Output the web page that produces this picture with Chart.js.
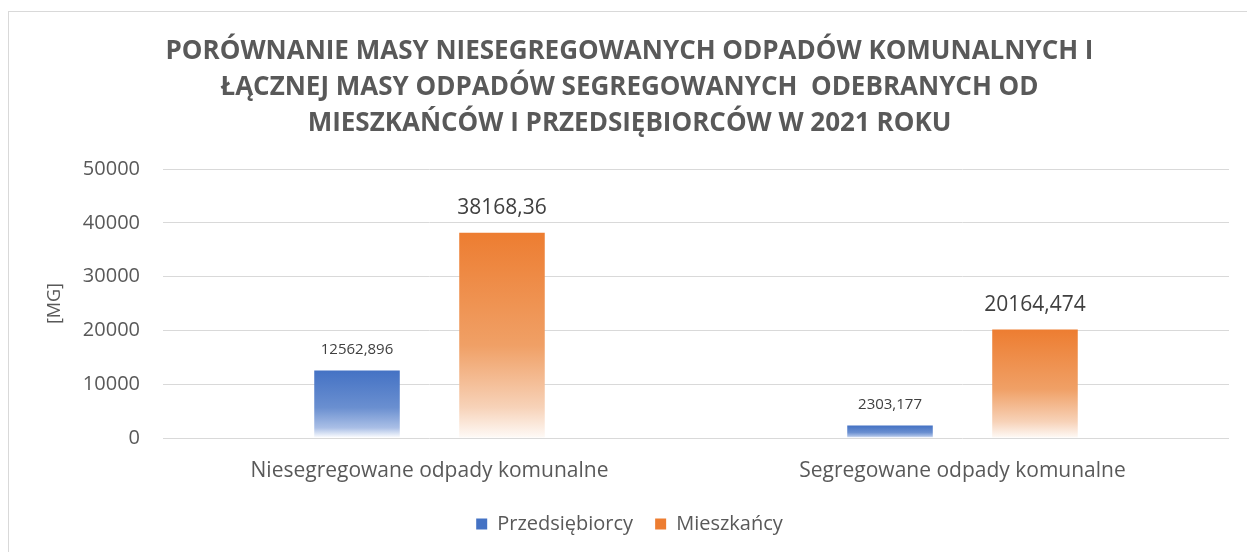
<!DOCTYPE html>
<html>
<head>
<meta charset="utf-8">
<script src="https://cdn.jsdelivr.net/npm/chart.js@4.4.1/dist/chart.umd.min.js"></script>
<style>
    html, body { margin: 0; padding: 0; background: #fff; }
    #wrap { position: relative; width: 1247px; height: 552px; overflow: hidden; }
    #frame { position: absolute; left: 8px; top: 11px; width: 1300px; height: 600px; border: 1px solid #d9d9d9; box-sizing: border-box; }
    #chart { position: absolute; left: 0; top: 0; }
</style>
</head>
<body>
<div id="wrap">
    <div id="frame"></div>
    <canvas id="chart" width="1247" height="552"></canvas>
</div>
<script>
const titleLines = [
    "PORÓWNANIE MASY NIESEGREGOWANYCH ODPADÓW KOMUNALNYCH I",
    "ŁĄCZNEJ MASY ODPADÓW SEGREGOWANYCH  ODEBRANYCH OD",
    "MIESZKAŃCÓW I PRZEDSIĘBIORCÓW W 2021 ROKU"
];
const categories = ["Niesegregowane odpady komunalne", "Segregowane odpady komunalne"];
const seriesNames = ["Przedsiębiorcy", "Mieszkańcy"];
const przedsiebiorcy = [12562.896, 2303.177];
const mieszkancy = [38168.36, 20164.474];
const yTicks = [0, 10000, 20000, 30000, 40000, 50000];

const textColor = "#595959";
const gridColor = "#d9d9d9";
const blue = "#4472C4";
const orange = "#ED7D31";

function barGradient(color, stops) {
    return function(ctx) {
        const chart = ctx.chart;
        const y = chart.scales.y;
        if (ctx.type !== "data" || ctx.raw === undefined || !y || !chart.chartArea) return color;
        const top = y.getPixelForValue(ctx.raw);
        const base = y.getPixelForValue(0);
        if (!(base > top)) return color;
        const g = chart.ctx.createLinearGradient(0, top, 0, base);
        stops.forEach(s => g.addColorStop(s[0], s[1]));
        return g;
    };
}

const fmt = v => String(v).replace(".", ",");

const dataLabels = {
    id: "dataLabels",
    afterDatasetsDraw(chart) {
        const ctx = chart.ctx;
        const fonts = ["15px 'Open Sans'", "21px 'Open Sans'"];
        const offsets = [21, 25];
        chart.data.datasets.forEach((ds, i) => {
            chart.getDatasetMeta(i).data.forEach((bar, j) => {
                ctx.save();
                ctx.font = fonts[i];
                ctx.fillStyle = "#404040";
                ctx.textAlign = "center";
                ctx.textBaseline = "middle";
                ctx.fillText(fmt(ds.data[j]), bar.x, bar.y - offsets[i]);
                ctx.restore();
            });
        });
    }
};

new Chart(document.getElementById("chart"), {
    type: "bar",
    data: {
        labels: categories,
        datasets: [
            {
                label: seriesNames[0],
                data: przedsiebiorcy,
                backgroundColor: barGradient(blue, [[0, blue], [0.55, "#6a8fd0"], [0.85, "#aabfe6"], [1, "#ffffff"]])
            },
            {
                label: seriesNames[1],
                data: mieszkancy,
                backgroundColor: barGradient(orange, [[0, orange], [0.55, "#f0a066"], [0.85, "#f7d2b8"], [1, "#fefaf7"]])
            }
        ]
    },
    options: {
        responsive: false,
        animation: false,
        layout: { padding: { left: 30, right: 18, top: 0, bottom: 8 } },
        datasets: {
            bar: { categoryPercentage: 0.544, barPercentage: 0.59 }
        },
        plugins: {
            title: {
                display: true,
                text: titleLines,
                color: textColor,
                font: { family: "'Open Sans'", size: 26, weight: "bold", lineHeight: 1.385 },
                padding: { top: 34, bottom: 27 }
            },
            legend: {
                position: "bottom",
                labels: {
                    color: textColor,
                    font: { family: "'Open Sans'", size: 20 },
                    boxWidth: 11,
                    boxHeight: 11,
                    padding: 22,
                    generateLabels(chart) {
                        const cols = [blue, orange];
                        return chart.data.datasets.map((ds, i) => ({
                            text: ds.label,
                            fillStyle: cols[i],
                            strokeStyle: cols[i],
                            lineWidth: 0,
                            fontColor: textColor,
                            hidden: false,
                            datasetIndex: i
                        }));
                    }
                }
            },
            tooltip: { enabled: false }
        },
        scales: {
            x: {
                grid: { display: false },
                border: { display: false },
                ticks: {
                    color: textColor,
                    font: { family: "'Open Sans'", size: 21 },
                    padding: 12
                },
                afterFit(scale) { scale.height = 54; }
            },
            y: {
                min: 0,
                max: 50000,
                afterBuildTicks(scale) { scale.ticks = yTicks.map(v => ({ value: v })); },
                grid: { color: gridColor, lineWidth: 1, drawTicks: false },
                border: { display: false },
                ticks: {
                    color: textColor,
                    font: { family: "'Open Sans'", size: 20 },
                    padding: 23,
                    callback: v => String(v)
                },
                title: {
                    display: true,
                    text: "[MG]",
                    color: textColor,
                    font: { family: "'Open Sans'", size: 18 },
                    padding: { top: 14, bottom: 0 }
                },
                afterFit(scale) { scale.width = 133; }
            }
        }
    },
    plugins: [dataLabels]
});
</script>
</body>
</html>
